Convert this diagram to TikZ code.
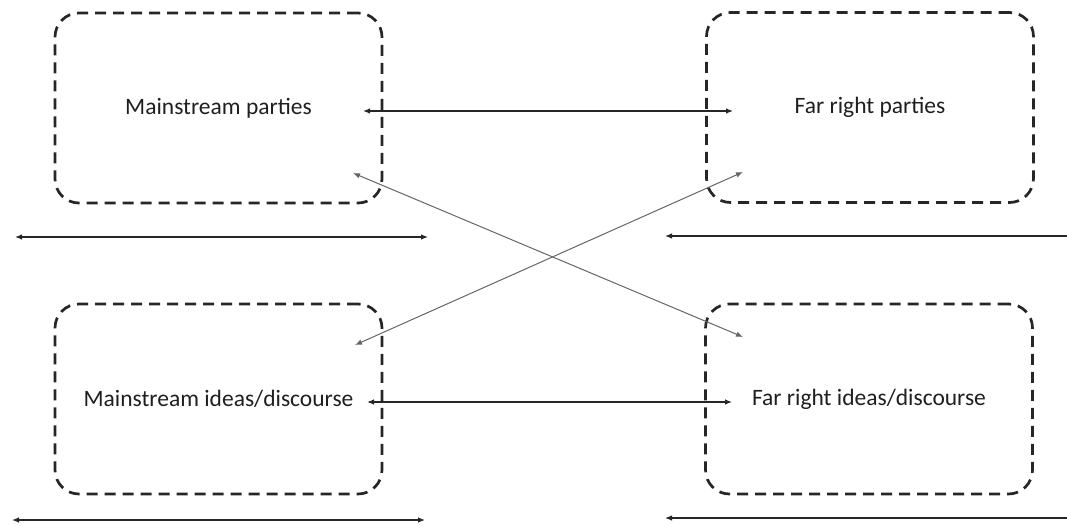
\documentclass[tikz,border=0pt]{standalone}
\usepackage{fontspec}
\setmainfont{Carlito}
\usetikzlibrary{arrows.meta}
\newcommand{\boxtext}[1]{\raisebox{-7pt}{#1}}
\begin{document}
\begin{tikzpicture}[x=1pt,y=-1pt,
  box/.style={draw=black!85, line width=2.7pt, dash pattern=on 11pt off 7pt,
    rounded corners=24pt, minimum width=327pt, minimum height=190pt,
    inner sep=0pt, font=\fontsize{23.5}{28}\selectfont, text=black!88},
  link/.style={line width=1.2pt, draw=black!85, {Latex[length=7pt,width=5.5pt]}-{Latex[length=7pt,width=5.5pt]}},
  onelink/.style={line width=1.2pt, draw=black!85, -{Latex[length=7pt,width=5.5pt]}},
  crosslink/.style={line width=1pt, draw=black!60, {Latex[length=7pt,width=5.5pt]}-{Latex[length=7pt,width=5.5pt]}}
]
\useasboundingbox (0,0) rectangle (1067,526);

% boxes
\node[box] (mp) at (218.5,108) {\boxtext{Mainstream parties}};
\node[box] (fp) at (870,107.5) {\boxtext{Far right parties}};
\node[box] (mi) at (218.5,399) {\boxtext{Mainstream ideas/discourse}};
\node[box] (fi) at (869,399) {\boxtext{Far right ideas/discourse}};

% connector end points
\coordinate (mpR) at (363,111);
\coordinate (fpL) at (733,111);
\coordinate (miR) at (367,402);
\coordinate (fiL) at (732,402);
\coordinate (mpD) at (353,173);
\coordinate (fiU) at (743,337);
\coordinate (miU) at (355,345);
\coordinate (fpD) at (743,172);

% horizontal lines under boxes
\coordinate (tlA) at (15,237);
\coordinate (tlB) at (428,237);
\coordinate (trA) at (1067,236);
\coordinate (trB) at (665,236);
\coordinate (blA) at (12,520);
\coordinate (blB) at (425,520);
\coordinate (brA) at (1067,518);
\coordinate (brB) at (665,518);

% connectors
\draw[link] (mpR) -- (fpL);
\draw[link] (miR) -- (fiL);
\draw[crosslink] (mpD) -- (fiU);
\draw[crosslink] (miU) -- (fpD);

\draw[link] (tlA) -- (tlB);
\draw[onelink] (trA) -- (trB);
\draw[link] (blA) -- (blB);
\draw[onelink] (brA) -- (brB);
\end{tikzpicture}
\end{document}
